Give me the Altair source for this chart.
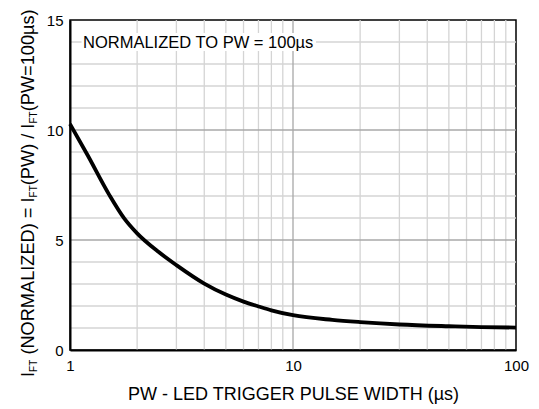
import altair as alt
import pandas as pd

# ---- data ----
pw = [1, 1.2, 1.5, 1.75, 2, 2.5, 3, 4, 5, 6, 7, 8, 10, 15, 20, 30, 50, 70, 100]
ift = [10.27, 8.85, 7.05, 5.98, 5.3, 4.45, 3.86, 3.02, 2.52, 2.2, 1.98, 1.8, 1.58,
       1.37, 1.27, 1.16, 1.08, 1.04, 1.02]
x_minor_grid = [2, 3, 4, 5, 6, 7, 8, 9, 20, 30, 40, 50, 60, 70, 80, 90]
x_major_grid = [10]
y_minor_grid = [1, 2, 3, 4, 6, 7, 8, 9, 11, 12, 13, 14]
y_major_grid = [5, 10]
x_tick_labels = [1, 10, 100]
y_tick_labels = [0, 5, 10, 15]

W, H = 446, 330
FONT = "Liberation Sans"

xscale = alt.Scale(type="log", domain=[1, 100], nice=False)
yscale = alt.Scale(domain=[0, 15], nice=False)

xaxis = alt.Axis(values=x_tick_labels, format="d", title="PW - LED TRIGGER PULSE WIDTH (µs)",
                 grid=False, ticks=False, labelFontSize=15, labelPadding=8, labelFont=FONT,
                 labelColor="black", titleFont=FONT, titleFontSize=18, titleFontWeight="normal",
                 titleColor="black", titleY=49, titleBaseline="alphabetic",
                 domainColor="black", domainWidth=2, labelFlush=False, zindex=1)
yaxis = alt.Axis(values=y_tick_labels, format="d", title=None, grid=False, ticks=False,
                 labelFontSize=15, labelPadding=7, labelFont=FONT, labelColor="black",
                 domainColor="black", domainWidth=2, zindex=1)


def grid_rules(vals, channel, color, width):
    df = pd.DataFrame({"v": vals})
    if channel == "x":
        enc = {"x": alt.X("v:Q", scale=xscale, axis=xaxis)}
    else:
        enc = {"y": alt.Y("v:Q", scale=yscale, axis=yaxis)}
    return alt.Chart(df).mark_rule(color=color, strokeWidth=width).encode(**enc)


layers = [
    grid_rules(x_minor_grid, "x", "#d4d4d4", 1.3),
    grid_rules(y_minor_grid, "y", "#d4d4d4", 1.3),
    grid_rules(x_major_grid, "x", "#a8a8a8", 1.3),
    grid_rules(y_major_grid, "y", "#a8a8a8", 1.3),
]

one = pd.DataFrame({"a": [0]})

# white box behind the annotation
layers.append(alt.Chart(one).mark_rect(color="white").encode(
    x=alt.value(11.5), x2=alt.value(246), y=alt.value(13), y2=alt.value(31)))
layers.append(alt.Chart(one).mark_text(
    text="NORMALIZED TO PW = 100µs", font=FONT, fontSize=16.5, color="black",
    align="left", baseline="alphabetic").encode(x=alt.value(13), y=alt.value(28)))

curve_df = pd.DataFrame({"pw": pw, "ift": ift})
layers.append(alt.Chart(curve_df).mark_line(color="black", strokeWidth=3.8, interpolate="monotone").encode(
    x=alt.X("pw:Q", scale=xscale, axis=xaxis),
    y=alt.Y("ift:Q", scale=yscale, axis=yaxis)))


# rotated y title with subscripts
def ytext(txt, pos, sub=False):
    return alt.Chart(one).mark_text(
        text=txt, font=FONT, fontSize=10 if sub else 18.2, color="black", angle=270,
        align="left", baseline="alphabetic").encode(
        x=alt.value(-32.8 if sub else -35.8), y=alt.value(pos))


layers += [
    ytext("I", 357),
    ytext("FT", 351.9, True),
    ytext("(NORMALIZED) = I", 334.6),
    ytext("FT", 177.4, True),
    ytext("(PW) / I", 165.2),
    ytext("FT", 103.5, True),
    ytext("(PW=100µs)", 91.3),
]

chart = alt.layer(*layers).properties(
    width=W, height=H,
    autosize=alt.AutoSizeParams(type="none"),
    padding={"left": 62, "top": 12, "right": 15, "bottom": 56},
    background="white",
).configure_view(stroke="black", strokeWidth=1.5)

chart.save("out.html", embed_options={"renderer": "svg", "actions": False})
